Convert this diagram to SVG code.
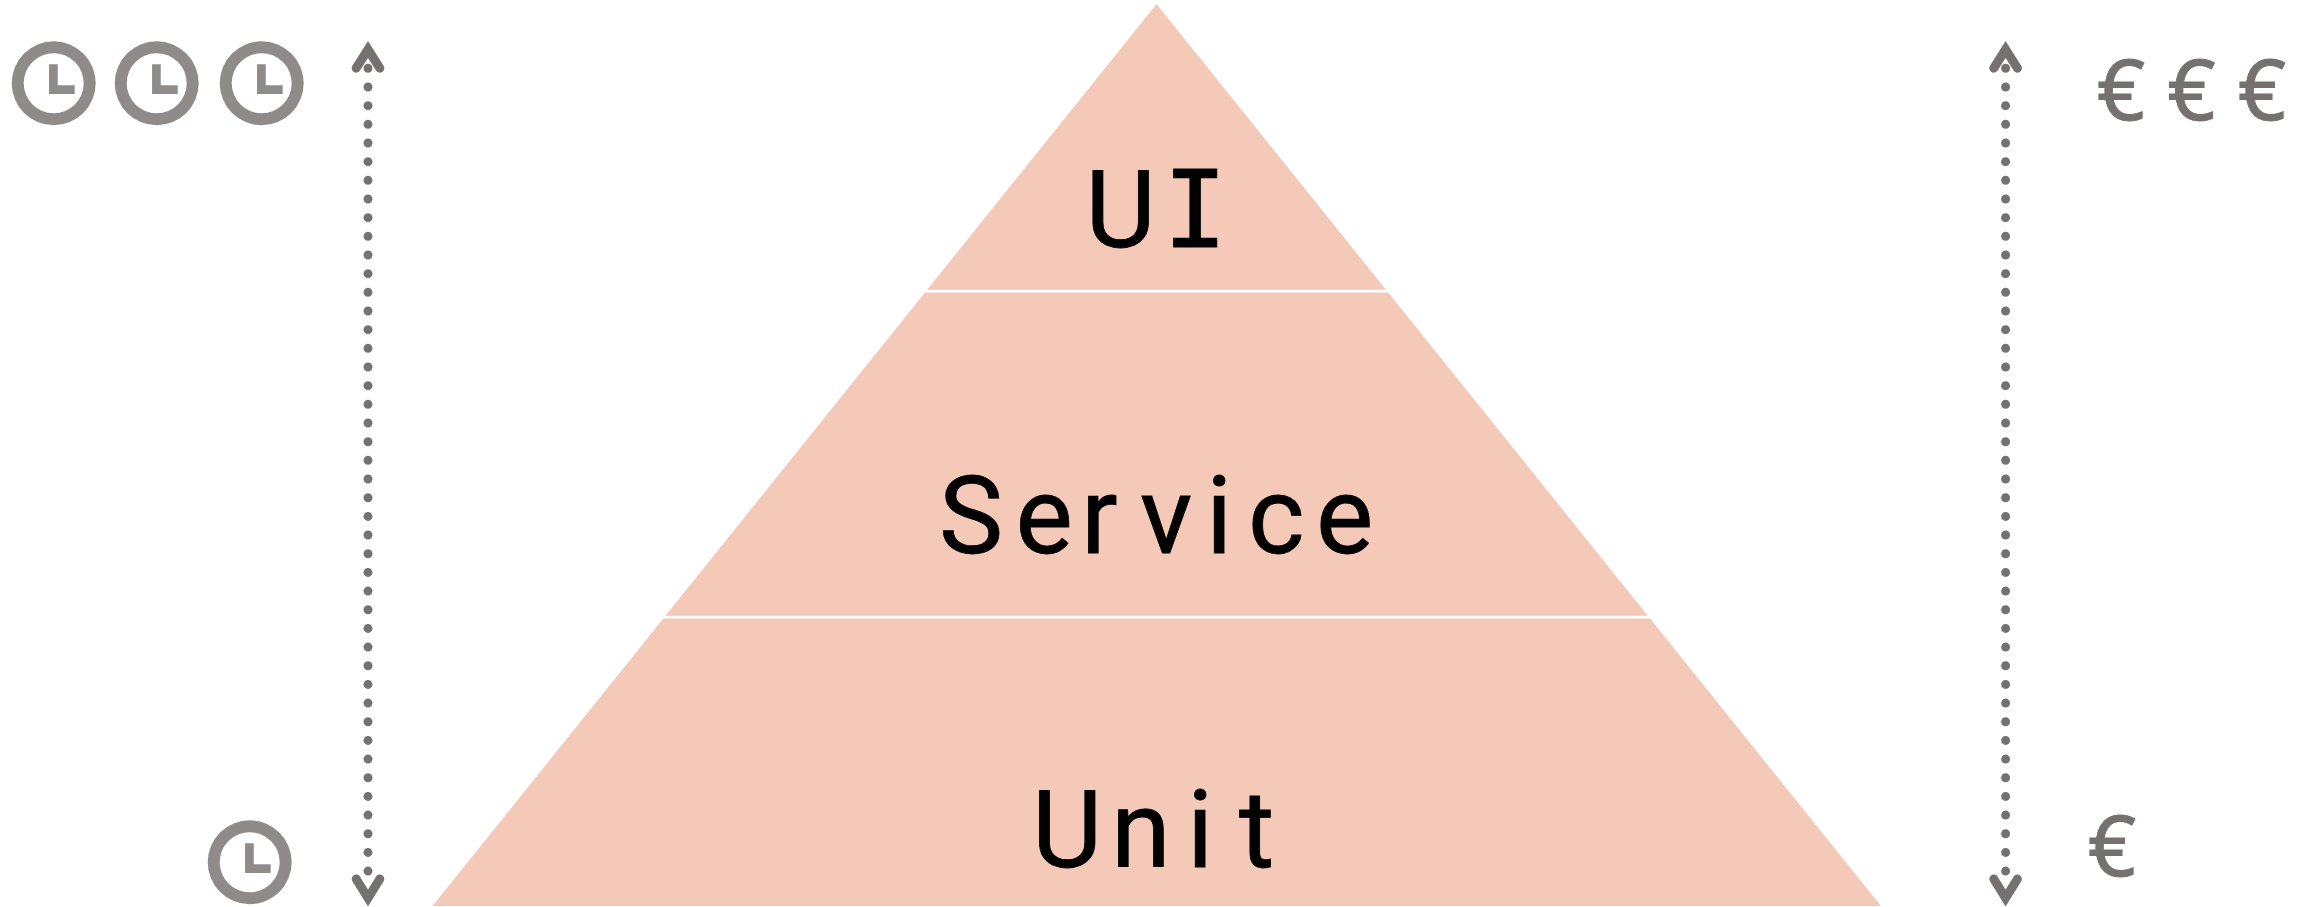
<svg xmlns="http://www.w3.org/2000/svg" width="2313" height="907" viewBox="0 0 2313 907">
<style>
.lbl{font-family:Roboto,"Liberation Sans",sans-serif;font-size:108px;fill:#000;stroke:#000;stroke-width:.8}
.mono{font-family:"DejaVu Sans Mono","Liberation Mono",monospace;font-size:107px}
.eur{font-family:"Noto Sans","Open Sans",sans-serif;font-size:84px;fill:#767171;stroke:#767171;stroke-width:1}
.ring{fill:#8f8b89;fill-rule:evenodd}
.hand{fill:none;stroke:#8f8b89;stroke-width:8.7}
.dots{fill:none;stroke:#767171;stroke-width:9;stroke-linecap:round;stroke-dasharray:0 18.67}
.head{fill:none;stroke:#767171;stroke-width:9;stroke-linecap:round;stroke-linejoin:miter;stroke-miterlimit:6}
.sep{stroke:#fff;stroke-width:2.7}
</style>
<defs>
<g id="clock"><path class="ring" d="M-42 0A42 42 0 1 1 42 0A42 42 0 1 1-42 0ZM-30 0A30 30 0 1 0 30 0A30 30 0 1 0-30 0Z"/><path class="hand" d="M-0.3-19V6.3H21"/></g>
</defs>
<g id="pyramid">
<polygon points="1156.5,4 1881,906 432.5,906" fill="#f4c9b8"/>
<line class="sep" x1="920" y1="291.2" x2="1395" y2="291.2"/>
<line class="sep" x1="655" y1="617.2" x2="1660" y2="617.2"/>
</g>
<g id="layer-ui"><text class="lbl" y="247"><tspan x="1085.5">U</tspan><tspan class="mono" x="1163">I</tspan></text></g>
<g id="layer-service"><text class="lbl" x="939 1015.5 1081 1140 1206 1248 1316" y="553">Service</text></g>
<g id="layer-unit"><text class="lbl" x="1032 1111 1187 1239" y="867">Unit</text></g>
<g id="connectors">
<path class="dots" d="M368 68.3V871.5"/>
<path class="head" d="M356.2 68.2L368 49.5L379.8 68.2"/>
<path class="head" d="M356.2 879L368 898L379.8 879"/>
<path class="dots" d="M2005.6 68.3V871.5"/>
<path class="head" d="M1993.8 68.2L2005.6 49.5L2017.4 68.2"/>
<path class="head" d="M1993.8 879L2005.6 898L2017.4 879"/>
</g>
<g id="clock-1"><use href="#clock" x="53.7" y="83.3"/></g>
<g id="clock-2"><use href="#clock" x="156.7" y="83.3"/></g>
<g id="clock-3"><use href="#clock" x="261.7" y="83.3"/></g>
<g id="clock-4"><use href="#clock" x="249.7" y="862.3"/></g>
<g id="cost-1"><text class="eur" x="2097" y="120">€</text></g>
<g id="cost-2"><text class="eur" x="2167.5" y="120">€</text></g>
<g id="cost-3"><text class="eur" x="2238" y="120">€</text></g>
<g id="cost-4"><text class="eur" x="2088" y="876">€</text></g>
</svg>
